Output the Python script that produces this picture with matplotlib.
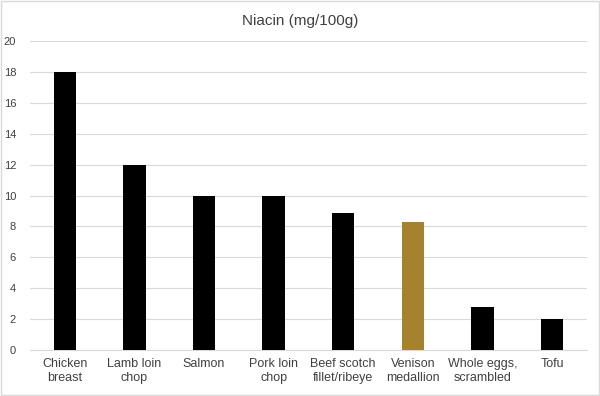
import matplotlib
matplotlib.use("Agg")
import matplotlib.pyplot as plt
from matplotlib.patches import Rectangle

categories = ["Chicken\nbreast", "Lamb loin\nchop", "Salmon", "Pork loin\nchop",
              "Beef scotch\nfillet/ribeye", "Venison\nmedallion",
              "Whole eggs,\nscrambled", "Tofu"]
niacin = [18, 12, 10, 10, 8.9, 8.3, 2.8, 2]
highlight = "Venison\nmedallion"

plt.rcParams["font.family"] = ["Liberation Sans", "DejaVu Sans"]

fig = plt.figure(figsize=(6, 3.96), dpi=100)
ax = fig.add_axes([0.05, 0.116, 0.928, 0.7805])

colors = ["#A6812F" if c == highlight else "black" for c in categories]
x = range(len(categories))
ax.bar(x, niacin, width=0.32, color=colors, zorder=3)

ax.set_xlim(-0.5, len(categories) - 0.5)
ax.set_ylim(0, 20)
ax.set_yticks(range(0, 21, 2))
ax.set_xticks(list(x))
ax.set_xticklabels(categories, fontsize=9, color="#404040")
ax.tick_params(axis="y", labelsize=8, colors="#404040", length=0, pad=10)
ax.tick_params(axis="x", length=0, pad=6)
ax.grid(axis="y", color="#d9d9d9", linewidth=0.8, zorder=0)
for s in ["top", "right", "left"]:
    ax.spines[s].set_visible(False)
ax.spines["bottom"].set_color("#d9d9d9")

fig.suptitle("Niacin (mg/100g)", y=0.965, fontsize=11, color="#404040")

fig.patches.append(Rectangle((0.002, 0.003), 0.996, 0.994, transform=fig.transFigure,
                             fill=False, edgecolor="#d9d9d9", linewidth=1))

fig.savefig("out.png", dpi=100)
